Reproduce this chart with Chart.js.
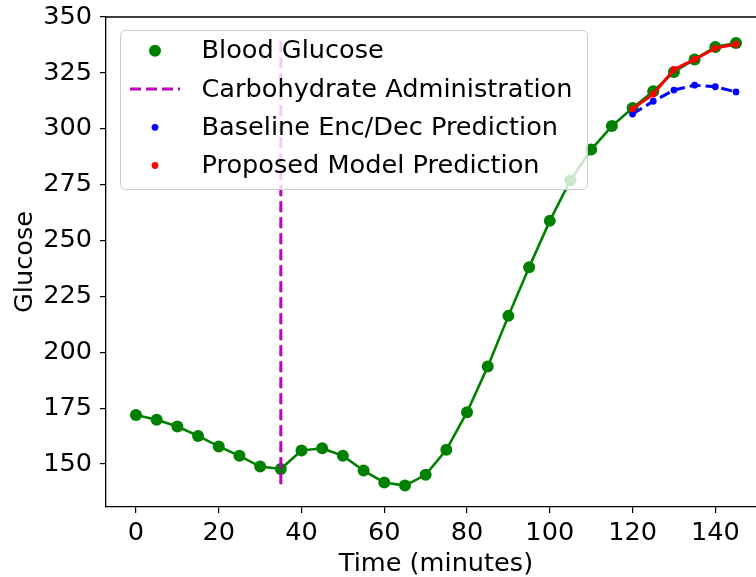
<!DOCTYPE html>
<html>
<head>
<meta charset="utf-8">
<title>Blood Glucose Prediction</title>
<script src="https://cdn.jsdelivr.net/npm/chart.js@4/dist/chart.umd.min.js"></script>
<style>
    html, body { margin: 0; padding: 0; background: #fff; overflow: hidden; }
    #wrap { width: 772px; height: 577px; }
</style>
</head>
<body>
<div id="wrap"><canvas id="glucoseChart" width="772" height="577"></canvas></div>
<script>
// Sample times (minutes) and measured glucose
const times = [0, 5, 10, 15, 20, 25, 30, 35, 40, 45, 50, 55, 60, 65, 70, 75, 80, 85, 90, 95, 100, 105, 110, 115, 120, 125, 130, 135, 140, 145];
const glucose = [172.0, 169.8, 166.8, 162.6, 157.9, 153.7, 148.9, 147.8, 156.1, 157.1, 153.7, 147.1, 141.8, 140.4, 145.2, 156.4, 173.2, 193.6, 216.3, 238.0, 258.8, 277.0, 290.7, 301.2, 309.3, 316.8, 325.4, 331.0, 336.6, 338.4];

// Prediction horizon
const predTimes = [120, 125, 130, 135, 140, 145];
const baselinePred = [306.6, 312.3, 317.3, 319.5, 318.8, 316.5];
const proposedPred = [308.9, 315.5, 326.5, 331.0, 336.1, 337.8];

// Carbohydrate administration marker
const carbTime = 35;
const carbSpan = [141, 340];

// Axis ticks
const xTicks = [0, 20, 40, 60, 80, 100, 120, 140];
const yTicks = [150, 175, 200, 225, 250, 275, 300, 325, 350];

const FONT = "'DejaVu Sans', 'Liberation Sans', sans-serif";
const FONT_SIZE = 25.6;

function toPoints(xs, ys) {
    return xs.map((x, i) => ({ x, y: ys[i] }));
}

// Legend drawn inside the plot, over the lines, like a matplotlib legend
const innerLegend = {
    id: 'innerLegend',
    afterDraw(chart) {
        const ctx = chart.ctx;
        const area = chart.chartArea;

        // top spine
        ctx.save();
        ctx.strokeStyle = '#000';
        ctx.lineWidth = 1.3;
        ctx.beginPath();
        ctx.moveTo(area.left, area.top);
        ctx.lineTo(area.right, area.top);
        ctx.stroke();

        const box = { x: 120, y: 30, w: 467, h: 159 };
        ctx.fillStyle = 'rgba(255,255,255,0.8)';
        ctx.strokeStyle = '#cccccc';
        ctx.lineWidth = 1;
        ctx.beginPath();
        ctx.roundRect(box.x + 0.5, box.y + 0.5, box.w, box.h, 5);
        ctx.fill();
        ctx.stroke();

        const rowY = [50.7, 89, 127.3, 165.5];
        const handleX = 155;
        ctx.font = FONT_SIZE + 'px ' + FONT;
        ctx.textBaseline = 'middle';
        ctx.textAlign = 'left';
        chart.data.datasets.forEach((ds, i) => {
            const y = rowY[i];
            if (ds.pointRadius > 0) {
                ctx.fillStyle = ds.borderColor;
                ctx.beginPath();
                ctx.arc(handleX, y, ds.pointRadius, 0, Math.PI * 2);
                ctx.fill();
            } else {
                ctx.strokeStyle = ds.borderColor;
                ctx.lineWidth = ds.borderWidth;
                ctx.setLineDash(ds.borderDash || []);
                ctx.beginPath();
                ctx.moveTo(handleX - 25, y);
                ctx.lineTo(handleX + 25, y);
                ctx.stroke();
                ctx.setLineDash([]);
            }
            ctx.fillStyle = '#000';
            ctx.fillText(ds.label, 201.5, y + 1);
        });
        ctx.restore();
    }
};

const axisCommon = {
    grid: { display: true, drawOnChartArea: false, drawTicks: true, tickLength: 6, color: '#000', lineWidth: 1.2 },
    border: { display: true, color: '#000', width: 1.3 }
};

new Chart(document.getElementById('glucoseChart').getContext('2d'), {
    type: 'line',
    data: {
        datasets: [
            {
                label: 'Blood Glucose',
                data: toPoints(times, glucose),
                borderColor: '#008000',
                backgroundColor: '#008000',
                borderWidth: 2.6,
                pointRadius: 6,
                pointBorderWidth: 0,
                order: 4
            },
            {
                label: 'Carbohydrate Administration',
                data: toPoints([carbTime, carbTime], carbSpan),
                borderColor: '#bf00bf',
                borderWidth: 3,
                borderDash: [11, 5],
                pointRadius: 0,
                order: 3
            },
            {
                label: 'Baseline Enc/Dec Prediction',
                data: toPoints(predTimes, baselinePred),
                borderColor: '#0000ff',
                backgroundColor: '#0000ff',
                borderWidth: 3,
                borderDash: [11, 5],
                pointRadius: 3.4,
                pointBorderWidth: 0,
                order: 2
            },
            {
                label: 'Proposed Model Prediction',
                data: toPoints(predTimes, proposedPred),
                borderColor: '#ff0000',
                backgroundColor: '#ff0000',
                borderWidth: 3,
                pointRadius: 3.4,
                pointBorderWidth: 0,
                order: 1
            }
        ]
    },
    options: {
        responsive: false,
        animation: false,
        events: [],
        layout: { padding: { top: 17, right: 2, left: 0, bottom: 0 } },
        plugins: {
            legend: { display: false },
            tooltip: { enabled: false }
        },
        scales: {
            x: {
                type: 'linear',
                min: -7.25,
                max: 152.25,
                afterBuildTicks: scale => { scale.ticks = xTicks.map(v => ({ value: v })); },
                afterFit: scale => {
                    scale.height = 70;
                    scale.paddingLeft = 0;
                    scale.paddingRight = 0;
                },
                ticks: { color: '#000', font: { family: FONT, size: FONT_SIZE }, padding: 5, maxRotation: 0 },
                title: { display: true, text: 'Time (minutes)', color: '#000', font: { family: FONT, size: FONT_SIZE, lineHeight: 1.0 }, padding: { top: 0, bottom: 0 } },
                ...axisCommon
            },
            y: {
                type: 'linear',
                min: 130.8,
                max: 350,
                afterBuildTicks: scale => { scale.ticks = yTicks.map(v => ({ value: v })); },
                afterFit: scale => {
                    scale.width = 106;
                    scale.paddingTop = 0;
                    scale.paddingBottom = 0;
                },
                ticks: { color: '#000', font: { family: FONT, size: FONT_SIZE }, padding: 8 },
                title: { display: true, text: 'Glucose', color: '#000', font: { family: FONT, size: FONT_SIZE }, padding: { top: 10, bottom: 0 } },
                ...axisCommon
            }
        }
    },
    plugins: [innerLegend]
});
</script>
</body>
</html>
